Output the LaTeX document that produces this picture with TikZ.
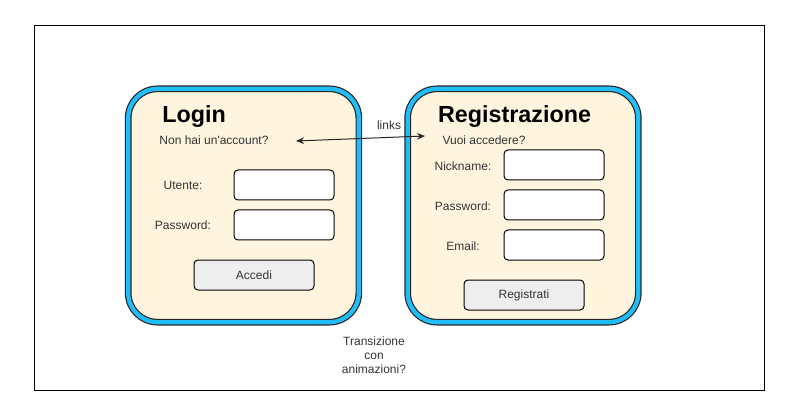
\documentclass[tikz,border=0pt]{standalone}
\usepackage{fontspec}
\setmainfont{Liberation Sans}
\usetikzlibrary{arrows.meta,positioning}
\definecolor{cardfill}{HTML}{FFF5DF}
\definecolor{cardblue}{HTML}{20BDF8}
\definecolor{btnfill}{HTML}{EEEEEE}
\definecolor{txtgray}{HTML}{333333}

\begin{document}
\begin{tikzpicture}[
    x=0.75pt, y=-0.75pt,
    every node/.style={font=\fontsize{9}{10.5}\selectfont, text=txtgray, inner sep=0pt},
    card/.style={draw=black!85, line width=0.9pt, double=cardblue, double distance=3.2pt,
                 fill=cardfill, rounded corners=22pt, minimum width=173pt, minimum height=175pt},
    title/.style={font=\fontsize{17.5}{20}\selectfont\bfseries, text=black},
    field/.style={draw=black, fill=white, line width=0.75pt, rounded corners=3pt,
                  minimum width=75pt, minimum height=22.5pt},
    button/.style={field, fill=btnfill, minimum width=90pt},
]
\useasboundingbox (0,0) rectangle (807,406);
\draw[line width=0.75pt] (34.5,25.5) rectangle (764,390);

% Login
\node[card] (login) at (243.5,205.5) {};
\node[title] (logintitle) at (194,117) {Login};
\node (noacc) at (214,140.5) {Non hai un\textquotesingle account?};
\node (utente) at (183,185) {Utente:};
\node[field] (utentebox) at (284,185) {};
\node (pwlogin) at (183,225) {Password:};
\node[field] (pwloginbox) at (284,225) {};
\node[button] (accedi) at (254,275) {Accedi};

% Registrazione
\node[card] (reg) at (523,205.5) {};
\node[title] (regtitle) at (514.5,117) {Registrazione};
\node (vuoi) at (484,140.5) {Vuoi accedere?};
\node (nick) at (463,166) {Nickname:};
\node[field] (nickbox) at (554,165) {};
\node (pwreg) at (463,206) {Password:};
\node[field] (pwregbox) at (554,205) {};
\node (email) at (463,246) {Email:};
\node[field] (emailbox) at (554,245) {};
\node[button] (registrati) at (524,295) {Registrati};

% links
\coordinate (linkL) at (296,141);
\coordinate (linkR) at (425,136);
\draw[{Stealth[length=6pt,width=5pt]}-{Stealth[length=6pt,width=5pt]}, draw=black!85, line width=0.75pt]
  (linkL) -- (linkR);
\node (links) at (389,125) {links};

\node[align=center] (anim) at (374,355) {Transizione\\con\\animazioni?};
\end{tikzpicture}
\end{document}
